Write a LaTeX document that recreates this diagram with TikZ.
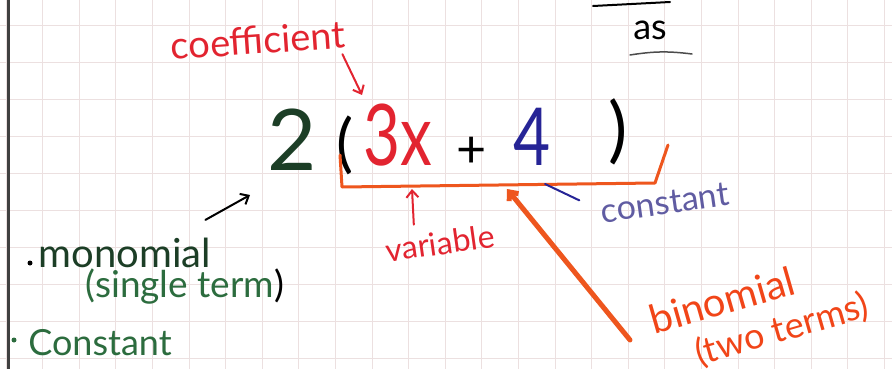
\documentclass[tikz,border=0pt]{standalone}
\usepackage{fontspec}
\setmainfont{Lato}
\usetikzlibrary{arrows.meta}

\definecolor{gridpink}{RGB}{236,224,224}
\definecolor{inkgreen}{RGB}{28,62,38}
\definecolor{notegreen}{RGB}{44,108,62}
\definecolor{inkred}{RGB}{226,36,48}
\definecolor{inkorange}{RGB}{238,86,30}
\definecolor{inkblue}{RGB}{38,36,150}
\definecolor{inkpurple}{RGB}{96,92,162}

\tikzset{
	note/.style={inner sep=0pt},
	pen/.style={line width=2pt, line cap=round, line join=round},
	tip/.style={-{Straight Barb[length=7pt,width=12pt]}},
}
\newcommand{\fs}[1]{\fontsize{#1}{#1}\selectfont}

\begin{document}
\begin{tikzpicture}[x=1pt, y=-1pt]
	\useasboundingbox[fill=white] (0,0) rectangle (892,369);
	
	% grid paper
	\foreach \gx in {0,...,24}
		\draw[gridpink, line width=0.9pt] ({6+36.6*\gx},0) -- ++(0,369);
	\foreach \gy in {0,...,9}
		\draw[gridpink, line width=0.9pt] (0,{25+37*\gy}) -- ++(892,0);
	\draw[black!75, line width=3pt] (8,0) -- (8,369);
	
	% expression
	\node[note, text=inkgreen, font=\fs{85}] (two) at (292,140) {2};
	\node[note, font=\fs{64}] (lpar) at (345,145) {(};
	\node[note, text=inkred, font=\fs{85}, xscale=0.75, transform shape] (threex) at (398,135) {3x};
	\node[note, font=\fs{52}] (plus) at (472,152) {+};
	\node[note, text=inkblue, font=\fs{80}, xscale=0.8, transform shape] (four) at (532,137) {4};
	\node[note, font=\fs{72}] (rpar) at (618,132) {)};
	
	% labels
	\node[note, text=inkred, font=\fs{38}, rotate=4] (coef) at (258,40) {coefficient};
	\node[note, font=\fs{36}] (as) at (650,30) {as};
	\node[note, text=inkred, font=\fs{32}, rotate=8] (var) at (440,243) {variable};
	\node[note, text=inkpurple, font=\fs{34}, rotate=8] (const) at (665,203) {constant};
	\node[note, text=inkorange!80!red, font=\fs{40}, rotate=16] (bin) at (722,300) {binomial};
	\node[note, text=inkorange!80!red, font=\fs{36}, rotate=16] (terms) at (782,330) {(two terms)};
	\node[note, text=inkgreen, font=\fs{40}] (mono) at (125,253) {monomial};
	\node[note, text=notegreen, font=\fs{37}] (single) at (185,287) {(single term\textcolor{black}{)}};
	\node[note, text=notegreen, font=\fs{36}] (cst) at (100,343) {Constant};
	\fill[black] (30,263) circle (2.5);
	\fill[notegreen] (14,340) circle (2.5);
	
	% under-bracket of the binomial
	\coordinate (brA) at (340,155);
	\coordinate (brB) at (342,187);
	\coordinate (brC) at (655,183);
	\coordinate (brD) at (668,145);
	\coordinate (brMid) at (507,189);
	\coordinate (binTail) at (630,340);
	\draw[pen, inkorange, line width=3pt] (brA) -- (brB) -- (brC) -- (brD);
	
	% pointers
	\draw[pen, tip, inkred] (coef.south east) ++(-4,6) -- (362,95);
	\draw[pen, tip, inkred] (var.north west) ++(30,-14) -- (412,189);
	\draw[pen, inkblue] (const.north west) ++(-20,0) -- (545,184);
	\draw[pen, tip, inkorange, line width=5pt] (binTail) -- (brMid);
	\draw[pen, tip, black] (mono.north east) ++(-6,-18) -- (250,195);
	
	% top corner
	\draw[pen, black] (593,6) -- (670,2);
	\draw[pen, black!70, line width=1.5pt] (630,55) to[bend left=8] (692,54);
\end{tikzpicture}
\end{document}
